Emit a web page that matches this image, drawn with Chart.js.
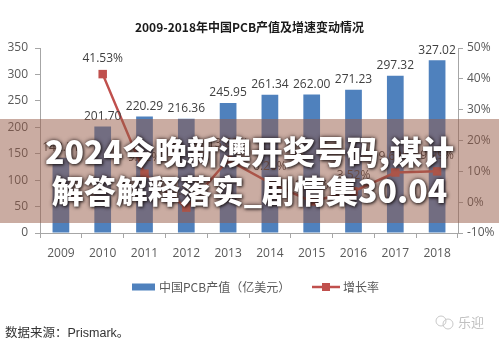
<!DOCTYPE html>
<html lang="zh-CN">
<head>
<meta charset="UTF-8">
<title>2009-2018年中国PCB产值及增速变动情况</title>
<script src="https://cdn.jsdelivr.net/npm/chart.js"></script>
<style>
  body { margin: 0; background: #fff; }
  #wrap { position: relative; width: 499px; height: 343px; overflow: hidden; }
  #banner {
    position: absolute; left: 0; top: 119px; width: 499px; height: 104px;
    background: rgba(150, 90, 70, 0.5);
    box-sizing: border-box; padding-top: 12px;
    font-family: "Noto Sans CJK SC", sans-serif; font-weight: 900;
    font-size: 32px; line-height: 39px; color: #fff; text-align: center;
    text-shadow: 0 0 4px rgba(40, 25, 25, 0.9), 1px 1px 3px rgba(0, 0, 0, 0.7);
    white-space: nowrap;
  }
</style>
</head>
<body>
<div id="wrap">
  <canvas id="myChart" width="499" height="343"></canvas>
  <div id="banner"><div>2024今晚新澳开奖号码,谋计</div><div>解答解释落实_剧情集30.04</div></div>
</div>
<script>
  // 年份、产值（亿美元）、增长率（%）
  const years = ['2009', '2010', '2011', '2012', '2013', '2014', '2015', '2016', '2017', '2018'];
  const pcbOutput = [142.51, 201.70, 220.29, 216.36, 245.95, 261.34, 262.00, 271.23, 297.32, 327.02];
  const growthRate = [null, 41.53, 9.22, -1.78, 13.68, 6.26, 0.25, 3.52, 9.62, 9.99];
  const outputTicks = [0, 50, 100, 150, 200, 250, 300, 350];
  const rateTicks = [-10, 0, 10, 20, 30, 40, 50];

  const barColor = '#4f81bd';
  const lineColor = '#c0504d';
  const axisColor = '#a6a6a6';
  const tickColor = '#595959';
  const latin = '"Open Sans", "Noto Sans CJK SC", sans-serif';
  const cjk = '"Noto Sans CJK SC", sans-serif';

  // 柱顶和折线点上方的数值
  const valueLabels = {
    id: 'valueLabels',
    afterDatasetsDraw(chart) {
      const ctx = chart.ctx;
      ctx.save();
      ctx.font = '12px ' + latin;
      ctx.fillStyle = '#404040';
      ctx.textAlign = 'center';
      ctx.textBaseline = 'middle';
      chart.getDatasetMeta(0).data.forEach((bar, i) => {
        ctx.fillText(pcbOutput[i].toFixed(2), bar.x, bar.y - 10);
      });
      chart.getDatasetMeta(1).data.forEach((pt, i) => {
        if (growthRate[i] === null) return;
        ctx.fillText(growthRate[i].toFixed(2) + '%', pt.x, pt.y - 16);
      });
      ctx.restore();
    }
  };

  // 底部图例、数据来源和水印
  const footer = {
    id: 'footer',
    afterDraw(chart) {
      const ctx = chart.ctx;
      const ly = 287;
      ctx.save();
      ctx.fillStyle = barColor;
      ctx.fillRect(132, ly - 3.5, 23, 7);
      ctx.font = '12px ' + cjk;
      ctx.fillStyle = tickColor;
      ctx.textBaseline = 'middle';
      ctx.fillText('中国PCB产值（亿美元）', 159, ly);
      ctx.strokeStyle = lineColor;
      ctx.lineWidth = 2.5;
      ctx.beginPath();
      ctx.moveTo(312, ly);
      ctx.lineTo(340, ly);
      ctx.stroke();
      ctx.fillStyle = lineColor;
      ctx.fillRect(322, ly - 4, 8, 8);
      ctx.fillStyle = tickColor;
      ctx.fillText('增长率', 343, ly);

      ctx.fillStyle = '#333';
      ctx.font = '12.5px "Liberation Sans", ' + cjk;
      ctx.fillText('数据来源：Prismark。', 5, 334);

      // 水印
      ctx.strokeStyle = '#c8c8c8';
      ctx.lineWidth = 1;
      ctx.beginPath();
      ctx.arc(441, 321, 5, 0, Math.PI * 2);
      ctx.stroke();
      ctx.beginPath();
      ctx.arc(448, 324, 5, 0, Math.PI * 2);
      ctx.stroke();
      ctx.fillStyle = '#c0c0c0';
      ctx.font = '13px ' + cjk;
      ctx.fillText('乐迎', 458, 322);
      ctx.restore();
    }
  };

  const ctx = document.getElementById('myChart');
  const configs = {
    data: {
      labels: years,
      datasets: [{
        type: 'bar',
        label: '中国PCB产值（亿美元）',
        data: pcbOutput,
        backgroundColor: barColor,
        yAxisID: 'y',
        categoryPercentage: 1,
        barPercentage: 0.4,
        order: 1
      }, {
        type: 'line',
        label: '增长率',
        data: growthRate,
        borderColor: lineColor,
        backgroundColor: lineColor,
        borderWidth: 2.5,
        pointStyle: 'rect',
        pointRadius: 6,
        pointBorderWidth: 0,
        yAxisID: 'y1',
        order: 0
      }]
    },
    options: {
      responsive: false,
      animation: false,
      devicePixelRatio: 1,
      layout: { padding: 0 },
      plugins: {
        legend: { display: false },
        tooltip: { enabled: false },
        title: {
          display: true,
          text: '2009-2018年中国PCB产值及增速变动情况',
          color: '#1a1a1a',
          font: { family: cjk, size: 12, weight: 'bold' },
          padding: { top: 20, bottom: 13.6 }
        }
      },
      scales: {
        x: {
          grid: { drawOnChartArea: false, tickLength: 5, color: axisColor, offset: true },
          border: { color: axisColor },
          ticks: { color: tickColor, font: { family: latin, size: 12 }, padding: 8 },
          afterFit(s) { s.height = 110; }
        },
        y: {
          position: 'left',
          min: outputTicks[0],
          max: outputTicks[outputTicks.length - 1],
          afterBuildTicks(s) { s.ticks = outputTicks.map(v => ({ value: v })); },
          grid: { drawOnChartArea: false, tickLength: 5, color: axisColor },
          border: { color: axisColor },
          ticks: { color: tickColor, font: { family: latin, size: 12 }, padding: 7 },
          afterFit(s) { s.width = 40; }
        },
        y1: {
          position: 'right',
          min: rateTicks[0],
          max: rateTicks[rateTicks.length - 1],
          afterBuildTicks(s) { s.ticks = rateTicks.map(v => ({ value: v })); },
          grid: { drawOnChartArea: false, tickLength: 5, color: axisColor },
          border: { color: axisColor },
          ticks: { color: tickColor, font: { family: latin, size: 12 }, padding: 4, callback: v => v + '%' },
          afterFit(s) { s.width = 41; }
        }
      }
    },
    plugins: [valueLabels, footer]
  };
  const myChart = new Chart(ctx, configs);
</script>
</body>
</html>
